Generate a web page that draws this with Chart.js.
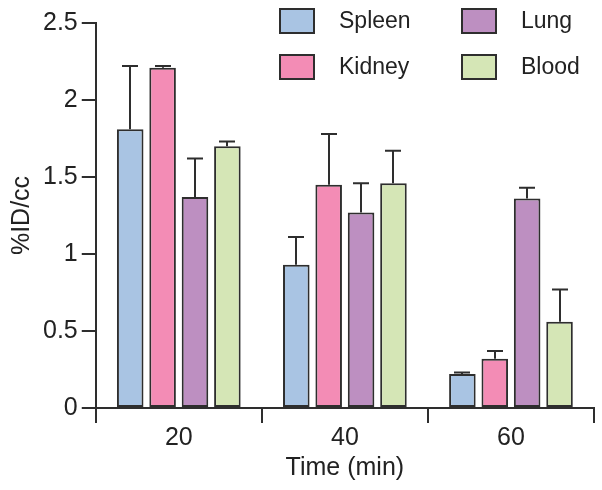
<!DOCTYPE html>
<html lang="en">
  <head>
    <meta charset="utf-8" />
    <title>%ID/cc over time</title>
    <style>
      body { margin: 0; background: #fff; }
      #myChart { display: block; }
    </style>
  </head>
  <body>
    <canvas id="myChart" width="602" height="490"></canvas>
    <script src="https://cdn.jsdelivr.net/npm/chart.js"></script>
    <script>
      // data
      const times = ["20", "40", "60"];
      const seriesNames = ["Spleen", "Kidney", "Lung", "Blood"];
      const spleen = [1.81, 0.93, 0.22];
      const kidney = [2.21, 1.45, 0.32];
      const lung = [1.37, 1.27, 1.36];
      const blood = [1.7, 1.46, 0.56];
      // error bar (upper) sizes
      const spleenErr = [0.41, 0.18, 0.01];
      const kidneyErr = [0.01, 0.33, 0.05];
      const lungErr = [0.25, 0.19, 0.07];
      const bloodErr = [0.03, 0.21, 0.21];
      const yTicks = [0, 0.5, 1, 1.5, 2, 2.5];

      const colors = ["#a9c4e3", "#f38cb5", "#bd8fc1", "#d5e6b6"];
      const edge = "#2e2e2e";
      const family = "Liberation Sans, Arial, sans-serif";
      const tickFont = { family, size: 25 };
      const titleFont = { family, size: 25 };

      const values = [spleen, kidney, lung, blood];
      const errors = [spleenErr, kidneyErr, lungErr, bloodErr];

      const errorBars = {
        id: "errorBars",
        afterDatasetsDraw(chart) {
          const ctx = chart.ctx;
          const y = chart.scales.y;
          ctx.save();
          ctx.strokeStyle = edge;
          ctx.lineWidth = 2;
          chart.data.datasets.forEach((ds, i) => {
            chart.getDatasetMeta(i).data.forEach((bar, j) => {
              const top = y.getPixelForValue(ds.data[j] + errors[i][j]);
              const x = Math.round(bar.x);
              ctx.beginPath();
              ctx.moveTo(x, bar.y);
              ctx.lineTo(x, top);
              ctx.moveTo(x - 8, top);
              ctx.lineTo(x + 8, top);
              ctx.stroke();
            });
          });
          ctx.restore();
        },
      };

      // two-column legend in the upper right
      const boxLegend = {
        id: "boxLegend",
        afterDraw(chart) {
          const ctx = chart.ctx;
          const order = [0, 2, 1, 3];
          const colX = [280, 462];
          const rowY = [9, 55];
          ctx.save();
          ctx.font = "23px " + family;
          ctx.textBaseline = "middle";
          order.forEach((idx, k) => {
            const bx = colX[k % 2];
            const by = rowY[Math.floor(k / 2)];
            ctx.fillStyle = colors[idx];
            ctx.fillRect(bx, by, 34, 24);
            ctx.strokeStyle = edge;
            ctx.lineWidth = 2;
            ctx.strokeRect(bx, by, 34, 24);
            ctx.fillStyle = "#222";
            ctx.fillText(seriesNames[idx], bx + 59, by + 13);
          });
          ctx.restore();
        },
      };

      const data = {
        labels: times,
        datasets: seriesNames.map((name, i) => ({
          label: name,
          data: values[i],
          backgroundColor: colors[i],
          borderColor: edge,
          borderWidth: 2,
          borderSkipped: false,
          categoryPercentage: 0.78,
          barPercentage: 0.82,
        })),
      };

      const config = {
        type: "bar",
        data,
        plugins: [errorBars, boxLegend],
        options: {
          responsive: false,
          animation: false,
          layout: { padding: { top: 23, right: 8, left: 7, bottom: 7 } },
          plugins: {
            legend: { display: false },
            tooltip: { enabled: false },
          },
          scales: {
            x: {
              grid: {
                offset: true,
                drawOnChartArea: false,
                color: edge,
                lineWidth: 2,
                tickLength: 15,
              },
              border: { color: edge, width: 2 },
              ticks: { color: "#222", font: tickFont, padding: 0 },
              title: {
                display: true,
                text: "Time (min)",
                color: "#222",
                font: titleFont,
                padding: { top: 0, bottom: 0 },
              },
            },
            y: {
              min: 0,
              max: 2.5,
              afterBuildTicks(axis) {
                axis.ticks = yTicks.map((v) => ({ value: v }));
              },
              grid: {
                drawOnChartArea: false,
                color: edge,
                lineWidth: 2,
                tickLength: 14,
              },
              border: { color: edge, width: 2 },
              ticks: {
                color: "#222",
                font: tickFont,
                padding: 4,
                callback: (v) => String(v),
              },
              title: {
                display: true,
                text: "%ID/cc",
                color: "#222",
                font: titleFont,
                padding: { bottom: 2, top: 0 },
              },
            },
          },
        },
      };
      const myChart = new Chart(document.getElementById("myChart"), config);
    </script>
  </body>
</html>
